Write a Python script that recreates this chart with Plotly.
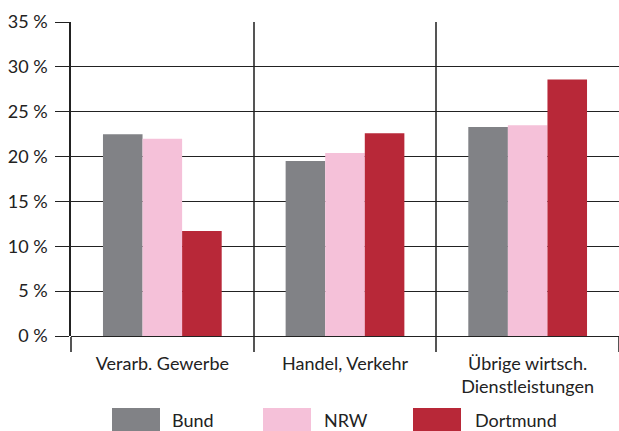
import plotly.graph_objects as go

categories = ["Verarb. Gewerbe", "Handel, Verkehr", "Übrige wirtsch.<br>Dienstleistungen"]
series_names = ["Bund", "NRW", "Dortmund"]
bund = [22.5, 19.5, 23.3]
nrw = [22.0, 20.4, 23.5]
dortmund = [11.7, 22.6, 28.6]
y_ticks = [0, 5, 10, 15, 20, 25, 30, 35]

colors = ["#818286", "#F5C1D9", "#B82838"]
values = [bund, nrw, dortmund]

FONT = "Lato"
FS = 18
W, H = 619, 431
L, R, T, B = 71, 0, 22, 95

fig = go.Figure()
for name, vals, c in zip(series_names, values, colors):
    fig.add_trace(go.Bar(x=categories, y=vals, name=name, marker=dict(color=c, line=dict(width=0)),
                         showlegend=False))

# manual legend with large swatches (paper coords computed from pixels)
pw, ph = W - L - R, H - T - B
def px(x):
    return (x - L) / pw
def py(y):
    return (H - B - y) / ph

legend_items = [(112, 160, 170), (263, 311, 322), (413, 461, 473)]
for (x0, x1, tx), name, c in zip(legend_items, series_names, colors):
    fig.add_shape(type="rect", xref="paper", yref="paper", x0=px(x0), x1=px(x1), y0=py(408), y1=py(432),
                  fillcolor=c, line=dict(width=0), layer="above")
    fig.add_annotation(xref="paper", yref="paper", x=px(tx), y=py(420), text=name, showarrow=False,
                       xanchor="left", yanchor="middle", font=dict(family=FONT, size=FS, color="#222"))

fig.update_layout(
    width=W, height=H,
    margin=dict(l=L, r=R, t=T, b=B),
    barmode="group", bargap=0.35, bargroupgap=0,
    plot_bgcolor="white", paper_bgcolor="white",
    font=dict(family=FONT, size=FS, color="#222"),
)
fig.update_xaxes(
    tickson="boundaries", ticks="outside", ticklen=15, tickcolor="#555", tickwidth=1.5,
    showgrid=True, gridcolor="#555", gridwidth=1.5,
    showline=False, range=[-0.5, 2.5], ticklabelstandoff=15,
    tickfont=dict(family=FONT, size=FS, color="#222"),
)
fig.update_yaxes(
    range=[0, 35], tickvals=y_ticks, ticktext=[f"{v} %" for v in y_ticks],
    ticks="outside", ticklen=14, tickcolor="#222", tickwidth=1,
    showgrid=True, gridcolor="#222", gridwidth=1,
    showline=True, linecolor="#222", linewidth=1.5,
    zeroline=True, zerolinecolor="#222", zerolinewidth=1.2,
    ticklabelstandoff=4,
    tickfont=dict(family=FONT, size=FS, color="#222"),
)
fig.write_html("out.html", config={"displayModeBar": False},
               post_script="document.body.style.margin='0';document.body.style.overflow='hidden';")
